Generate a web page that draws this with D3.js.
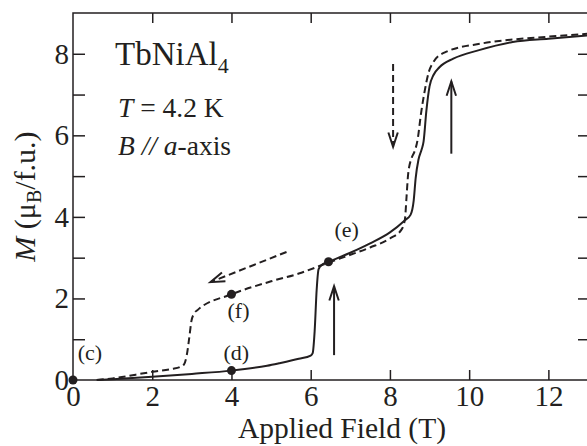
<!DOCTYPE html>
<html lang="en">
<head>
    <meta charset="utf-8">
    <title>TbNiAl4 magnetization</title>
    <script src="https://d3js.org/d3.v7.min.js"></script>
    <style>
        body { margin: 0; background: #fff; }
        svg text { font-family: "Liberation Serif", "Times New Roman", serif; fill: #231f20; }
    </style>
</head>
<body>
    <div id="chart"></div>
    <script>
        // Field-up sweep (solid) and field-down sweep (dashed), [B (T), M (muB/f.u.)]
        const upSweep = [
            [0.6, 0], [1.0, 0.02], [2.0, 0.08], [3.0, 0.15], [4.0, 0.23], [4.9, 0.35],
            [5.2, 0.41], [5.7, 0.52], [6.0, 0.6], [6.05, 0.66], [6.1, 1.2], [6.15, 2.2],
            [6.2, 2.72], [6.3, 2.84], [6.45, 2.9], [7.0, 3.12], [7.5, 3.35], [8.0, 3.62],
            [8.38, 3.92], [8.52, 4.05], [8.6, 4.4], [8.65, 4.95], [8.72, 5.4], [8.8, 5.65],
            [8.85, 5.85], [8.92, 6.6], [9.0, 7.2], [9.1, 7.48], [9.25, 7.67], [9.6, 7.88],
            [10.25, 8.09], [11.1, 8.29], [12.0, 8.37], [13.0, 8.45]
        ];
        const downSweep = [
            [0.6, 0], [1.0, 0.04], [2.0, 0.2], [2.5, 0.27], [2.7, 0.32], [2.8, 0.38],
            [2.87, 0.6], [2.93, 1.0], [2.99, 1.45], [3.05, 1.62], [3.15, 1.72], [4.0, 2.1],
            [5.0, 2.42], [5.7, 2.61], [6.45, 2.88], [7.0, 3.07], [7.5, 3.25], [8.0, 3.47],
            [8.3, 3.7], [8.38, 3.95], [8.42, 4.5], [8.46, 5.05], [8.55, 5.45], [8.62, 5.6],
            [8.7, 5.9], [8.78, 6.5], [8.88, 7.1], [8.98, 7.55], [9.1, 7.8], [9.4, 8.04],
            [10.3, 8.25], [11.1, 8.35], [12.0, 8.42], [13.0, 8.49]
        ];

        // marked states
        const markers = [
            { label: "(c)", x: 0, y: 0 },
            { label: "(d)", x: 4, y: 0.23 },
            { label: "(e)", x: 6.45, y: 2.9 },
            { label: "(f)", x: 4, y: 2.1 }
        ];
        // label anchor points (data units, text start / baseline)
        const markerLabels = [
            { label: "(c)", x: 0.12, y: 0.5 },
            { label: "(d)", x: 3.8, y: 0.5 },
            { label: "(e)", x: 6.6, y: 3.5 },
            { label: "(f)", x: 3.9, y: 1.52 }
        ];

        // sweep-direction arrows: from -> to, dashed or not
        const arrows = [
            { from: [8.08, 7.75], to: [8.08, 5.72], dashed: true },
            { from: [9.55, 5.55], to: [9.55, 7.32], dashed: false },
            { from: [6.59, 0.61], to: [6.59, 2.3], dashed: false },
            { from: [5.39, 3.14], to: [3.47, 2.4], dashed: true }
        ];

        const xTicks = [0, 2, 4, 6, 8, 10, 12];
        const yTicks = [0, 1, 2, 3, 4, 5, 6, 7, 8];

        const width = 587, height = 446;
        const margin = { top: 13, right: 0, bottom: 66, left: 73 };
        const ink = "#231f20";

        const svg = d3.select("#chart").append("svg")
            .attr("width", width)
            .attr("height", height);

        const x = d3.scaleLinear().domain([0, 13]).range([margin.left, 588]);
        const y = d3.scaleLinear().domain([0, 9]).range([380, margin.top]);

        // frame
        svg.append("rect")
            .attr("x", x(0)).attr("y", y(9))
            .attr("width", x(13) - x(0)).attr("height", y(0) - y(9))
            .attr("fill", "none").attr("stroke", ink).attr("stroke-width", 1.5);

        // axes with inward ticks
        const bottomAxis = svg.append("g")
            .attr("transform", `translate(0,${y(0)})`)
            .call(d3.axisBottom(x).tickValues(xTicks).tickSize(-10).tickPadding(5).tickFormat(d3.format("d")));
        const topAxis = svg.append("g")
            .attr("transform", `translate(0,${y(9)})`)
            .call(d3.axisTop(x).tickValues(xTicks.filter(d => d > 0)).tickSize(-10).tickFormat(""));
        const leftAxis = svg.append("g")
            .attr("transform", `translate(${x(0)},0)`)
            .call(d3.axisLeft(y).tickValues(yTicks).tickSize(-12).tickPadding(4)
                .tickFormat(d => d % 2 === 0 ? d : ""));
        const rightAxis = svg.append("g")
            .attr("transform", `translate(${x(13)},0)`)
            .call(d3.axisRight(y).tickValues(yTicks.filter(d => d > 0)).tickSize(-10).tickFormat(""));

        [bottomAxis, topAxis, leftAxis, rightAxis].forEach(g => {
            g.select(".domain").remove();
            g.selectAll("line").attr("stroke", ink).attr("stroke-width", 1.5);
            g.selectAll("text").attr("font-size", 29).attr("fill", ink)
                .style("font-family", '"Liberation Serif", serif');
        });
        bottomAxis.selectAll(".tick").filter(d => d === 0).select("line").remove();
        leftAxis.selectAll(".tick").filter(d => d === 0).select("line").remove();

        // curves
        const line = d3.line()
            .x(d => x(d[0]))
            .y(d => y(d[1]))
            .curve(d3.curveMonotoneX);

        svg.append("path")
            .datum(downSweep)
            .attr("d", line)
            .attr("fill", "none")
            .attr("stroke", ink)
            .attr("stroke-width", 2)
            .attr("stroke-dasharray", "7,4");

        svg.append("path")
            .datum(upSweep)
            .attr("d", line)
            .attr("fill", "none")
            .attr("stroke", ink)
            .attr("stroke-width", 2);

        // arrows
        arrows.forEach(a => {
            const x1 = x(a.from[0]), y1 = y(a.from[1]);
            const x2 = x(a.to[0]), y2 = y(a.to[1]);
            const ang = Math.atan2(y2 - y1, x2 - x1);
            const len = 15, spread = 0.32;
            const head = [
                [x2 - len * Math.cos(ang - spread), y2 - len * Math.sin(ang - spread)],
                [x2, y2],
                [x2 - len * Math.cos(ang + spread), y2 - len * Math.sin(ang + spread)]
            ];
            svg.append("line")
                .attr("x1", x1).attr("y1", y1)
                .attr("x2", x2).attr("y2", y2)
                .attr("stroke", ink).attr("stroke-width", 2)
                .attr("stroke-dasharray", a.dashed ? "7,4" : null);
            svg.append("path")
                .attr("d", d3.line()(head))
                .attr("fill", "none")
                .attr("stroke", ink)
                .attr("stroke-width", 2)
                .attr("stroke-linejoin", "miter");
        });

        // marked points
        svg.selectAll("circle.marker")
            .data(markers)
            .join("circle")
            .attr("class", "marker")
            .attr("cx", d => x(d.x))
            .attr("cy", d => y(d.y))
            .attr("r", 4.5)
            .attr("fill", ink);

        svg.selectAll("text.mlabel")
            .data(markerLabels)
            .join("text")
            .attr("class", "mlabel")
            .attr("x", d => x(d.x))
            .attr("y", d => y(d.y))
            .attr("font-size", 22)
            .text(d => d.label);

        // annotations
        const title = svg.append("text").attr("x", 115).attr("y", 65).attr("font-size", 33);
        title.append("tspan").text("TbNiAl");
        title.append("tspan").attr("font-size", 22).attr("dy", 8).text("4");

        const temp = svg.append("text").attr("x", 118).attr("y", 116.5).attr("font-size", 27.5);
        temp.append("tspan").attr("font-style", "italic").text("T");
        temp.append("tspan").text(" = 4.2 K");

        const dir = svg.append("text").attr("x", 118).attr("y", 155).attr("font-size", 27.5);
        dir.append("tspan").attr("font-style", "italic").text("B");
        dir.append("tspan").attr("font-style", "italic").text(" // ");
        dir.append("tspan").attr("font-style", "italic").text("a");
        dir.append("tspan").text("-axis");

        // axis titles
        svg.append("text")
            .attr("x", 342).attr("y", 438)
            .attr("text-anchor", "middle")
            .attr("font-size", 29.5)
            .text("Applied Field (T)");

        const ylab = svg.append("text")
            .attr("transform", `translate(35,${(y(0) + y(9)) / 2}) rotate(-90)`)
            .attr("text-anchor", "middle")
            .attr("font-size", 30);
        ylab.append("tspan").attr("font-style", "italic").text("M");
        ylab.append("tspan").text(" (\u03bc");
        ylab.append("tspan").attr("font-size", 20).attr("dy", 6).text("B");
        ylab.append("tspan").attr("dy", -6).text("/f.u.)");
    </script>
</body>
</html>
